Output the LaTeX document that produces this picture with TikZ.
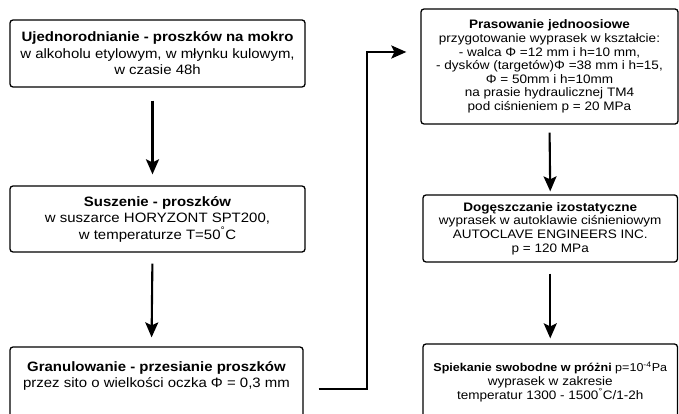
\documentclass[tikz,border=0pt]{standalone}
\usepackage{fontspec}
\setmainfont[FakeStretch=1.1]{Liberation Sans}
\usetikzlibrary{arrows.meta,positioning}

\tikzset{
  stage/.style={draw, rounded corners=3pt, line width=1.3pt, align=center, inner sep=2pt},
  leftfont/.style={font=\fontsize{13.6}{16.5}\selectfont},
  rightfont/.style={font=\fontsize{12.3}{13.6}\selectfont},
  flow/.style={line width=2.1pt, -{Stealth[length=15pt,width=13pt,inset=3pt]}},
}

\begin{document}
\begin{tikzpicture}[x=1pt,y=-1pt]
\useasboundingbox (0,0) rectangle (679,414);

% left column
\node[stage, leftfont, minimum width=295pt, minimum height=67pt] (ujed) at (157.5,53.5)
  {\textbf{Ujednorodnianie - proszków na mokro}\\ w alkoholu etylowym, w młynku kulowym,\\ w czasie 48h};
\node[stage, leftfont, minimum width=295pt, minimum height=66pt] (susz) at (157.5,219)
  {\textbf{Suszenie - proszków}\\ w suszarce HORYZONT SPT200,\\ w temperaturze T=50\textsuperscript{°}C};
\node[stage, leftfont, minimum width=293pt, minimum height=72pt] (gran) at (156.5,383)
  {\textbf{Granulowanie - przesianie proszków}\\ przez sito o wielkości oczka Φ = 0,3 mm\\ \rule{0pt}{12pt}};

% right column
\node[stage, rightfont, minimum width=257pt, minimum height=115pt] (pras) at (549.5,66.5)
  {\textbf{Prasowanie jednoosiowe}\\ przygotowanie wyprasek w kształcie:\\
   - walca Φ =12 mm i h=10 mm,\\ - dysków (targetów)Φ =38 mm i h=15,\\
   Φ = 50mm i h=10mm\hspace*{52pt}\\ na prasie hydraulicznej TM4\\ pod ciśnieniem p = 20 MPa};
\node[stage, rightfont, minimum width=254.5pt, minimum height=67pt] (doge) at (550.25,228.5)
  {\textbf{Dogęszczanie izostatyczne}\\ wyprasek w autoklawie ciśnieniowym\\ AUTOCLAVE ENGINEERS INC.\\ p = 120 MPa};
\node[stage, rightfont, minimum width=254.5pt, minimum height=76pt] (spie) at (550.25,382)
  {{\fontsize{11.4}{13.6}\selectfont\textbf{Spiekanie swobodne w próżni} p=10\textsuperscript{-4}Pa}\\ wyprasek w zakresie\\ temperatur 1300 - 1500\textsuperscript{°}C/1-2h};

% arrows
\draw[flow, shorten <=13pt, shorten >=11pt] ([xshift=-5pt]ujed.south) -- ([xshift=-5pt]susz.north);
\draw[flow, shorten <=11pt, shorten >=9pt] ([xshift=-5pt]susz.south) -- ([xshift=-5pt]gran.north);
\coordinate (turn) at (367,389);
\draw[flow, shorten <=15pt, shorten >=14pt] (gran.east |- turn) -- (turn) |- ([yshift=14.5pt]pras.west);
\draw[flow, shorten <=8pt, shorten >=3pt] (pras.south) -- (doge.north);
\draw[flow, shorten <=11pt, shorten >=5pt] (doge.south) -- (spie.north);
\end{tikzpicture}
\end{document}
